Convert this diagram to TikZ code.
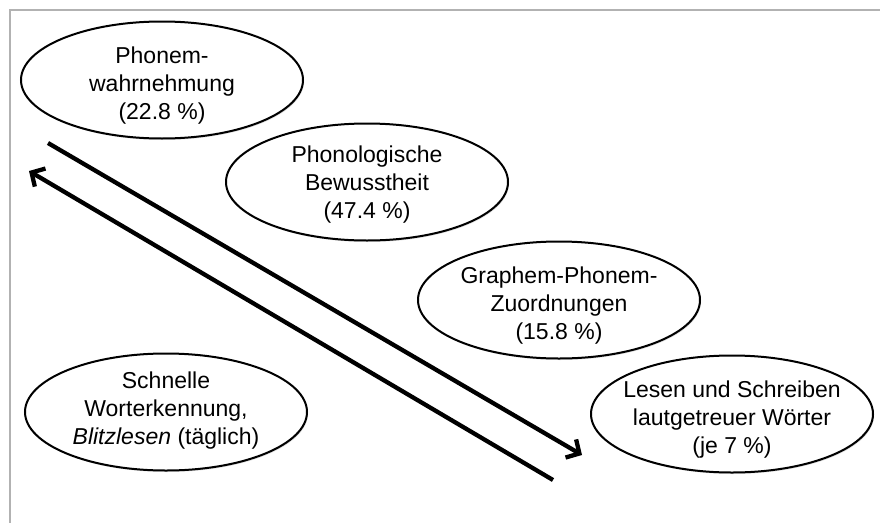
\documentclass[tikz,border=0pt]{standalone}
\usepackage{fontspec}
\setmainfont{Liberation Sans}
\usetikzlibrary{shapes.geometric,arrows.meta,shadows}
\begin{document}
\begin{tikzpicture}[x=1pt,y=-1pt,
  stage/.style={ellipse,draw=black,line width=2pt,fill=white,
    minimum width=282pt,minimum height=117pt,inner sep=0pt,
    drop shadow={opacity=0.25,shadow xshift=1pt,shadow yshift=-1.5pt}},
  stagetext/.style={align=center,inner sep=0pt,font=\fontsize{23}{28}\selectfont},
  flow/.style={line width=4.3pt,-{Straight Barb[length=10pt,width=21pt,line width=4.3pt]}}]
  \useasboundingbox (0,0) rectangle (880,522);
  % frame (top and left edges)
  \draw[line width=1.5pt,color=black!30] (10,530) -- (10,10) -- (890,10);

  \node[stage,label={[stagetext,yshift=-6pt]center:{Phonem-\\wahrnehmung\\(22.8 \%)}}] (pw) at (162,80) {};
  \node[stage,label={[stagetext,yshift=-3pt]center:{Phonologische\\Bewusstheit\\(47.4 \%)}}] (pb) at (367,182) {};
  \node[stage,label={[stagetext,yshift=-6pt]center:{Graphem-Phonem-\\Zuordnungen\\(15.8 \%)}}] (gp) at (559,300) {};
  \node[stage,label={[stagetext,yshift=1pt]center:{Schnelle\\Worterkennung,\\\textit{Blitzlesen} (täglich)}}] (sw) at (166,412) {};
  \node[stage,label={[stagetext,yshift=-6pt]center:{Lesen und Schreiben\\lautgetreuer Wörter\\(je 7 \%)}}] (ls) at (732,414) {};

  % progression arrows
  \coordinate (fwdA) at (48,143);
  \coordinate (fwdB) at (582,455);
  \coordinate (backA) at (553,480);
  \coordinate (backB) at (29,171);
  \draw[flow] (fwdA) -- (fwdB);
  \draw[flow] (backA) -- (backB);
\end{tikzpicture}
\end{document}
